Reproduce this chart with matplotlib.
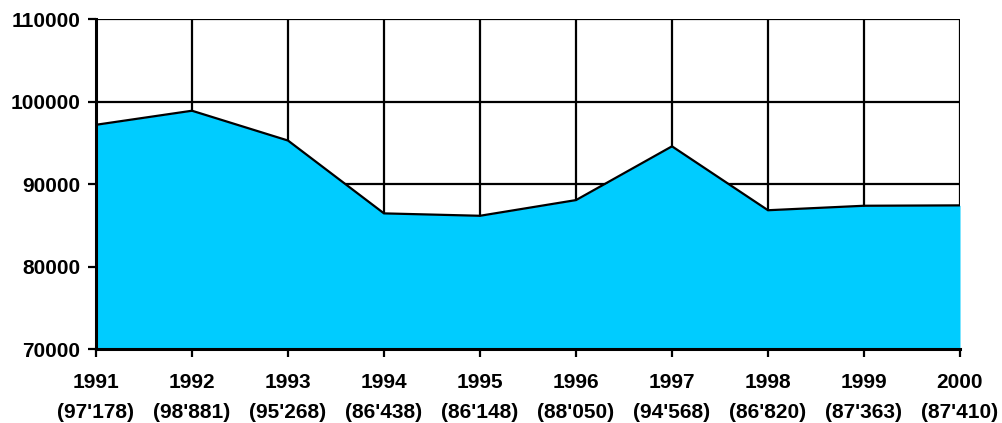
import matplotlib
matplotlib.use("Agg")
import matplotlib.pyplot as plt

years = ["1991", "1992", "1993", "1994", "1995", "1996", "1997", "1998", "1999", "2000"]
values = [97178, 98881, 95268, 86438, 86148, 88050, 94568, 86820, 87363, 87410]
value_labels = ["97'178", "98'881", "95'268", "86'438", "86'148", "88'050", "94'568", "86'820", "87'363", "87'410"]
y_ticks = [70000, 80000, 90000, 100000, 110000]

plt.rcParams['font.family'] = ['Liberation Sans', 'DejaVu Sans']
plt.rcParams['font.weight'] = 'bold'

fig = plt.figure(figsize=(10.03, 4.23), dpi=100)
ax = fig.add_axes([96/1003, 1 - 349/423, (960-96)/1003, (349-19)/423])

x = list(range(len(years)))
ax.fill_between(x, y_ticks[0], values, color='#00CCFF', zorder=2, linewidth=0)
ax.plot(x, values, color='black', lw=1.6, zorder=3, solid_joinstyle='miter')

ax.set_xlim(0, len(years) - 1)
ax.set_ylim(y_ticks[0], y_ticks[-1])
ax.set_xticks(x)
ax.set_xticklabels([f"{y}\n({v})" for y, v in zip(years, value_labels)],
                   fontsize=15, fontweight='bold', linespacing=1.75)
ax.set_yticks(y_ticks)
ax.set_yticklabels([str(t) for t in y_ticks], fontsize=15, fontweight='bold')

ax.grid(True, color='black', lw=1.6, zorder=1)
ax.set_axisbelow(True)
for s in ['top', 'right']:
    ax.spines[s].set_visible(False)
for s in ['left', 'bottom']:
    ax.spines[s].set_linewidth(2.2)
    ax.spines[s].set_zorder(4)
ax.tick_params(axis='both', direction='out', length=6, width=1.6, color='black')
ax.tick_params(axis='x', pad=11)
ax.tick_params(axis='y', pad=5.5)

fig.savefig("out.png", dpi=100)
